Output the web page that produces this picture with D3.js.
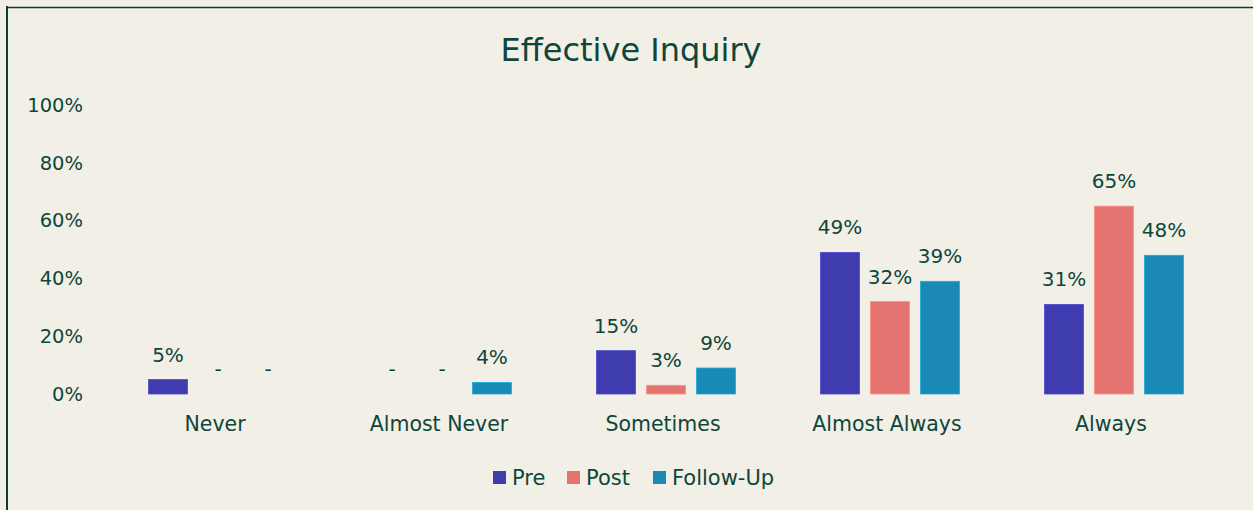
<!DOCTYPE html>
<html>
<head>
<meta charset="utf-8">
<script src="https://cdn.jsdelivr.net/npm/d3@7"></script>
<style>
  body { margin: 0; background: #f2efe7; }
  svg { display: block; font-family: "DejaVu Sans", sans-serif; }
</style>
</head>
<body>
<div id="chart"></div>
<script>
let categories = ['Never', 'Almost Never', 'Sometimes', 'Almost Always', 'Always']
let seriesNames = ['Pre', 'Post', 'Follow-Up']
let preValues = [5, 0, 15, 49, 31]
let postValues = [0, 0, 3, 32, 65]
let followUpValues = [0, 4, 9, 39, 48]
let yTicks = [0, 20, 40, 60, 80, 100]
let colors = ['#3f3caf', '#e5736f', '#1a8ab5']

let width = 1253
let height = 510
let margin = { top: 105, right: 27, bottom: 116, left: 106 }
let plotWidth = width - margin.left - margin.right
let plotHeight = height - margin.top - margin.bottom
let textColor = '#0e463a'
let fontFamily = '"DejaVu Sans", sans-serif'

let svg = d3.select('#chart')
  .append('svg')
    .attr('width', width)
    .attr('height', height)

svg.append('rect')
  .attr('width', width)
  .attr('height', height)
  .attr('fill', '#f2efe7')

// frame (only top and left edges are visible)
svg.append('line')
  .attr('x1', 7).attr('x2', 7).attr('y1', 6).attr('y2', height)
  .attr('stroke', '#0c3b31').attr('stroke-width', 2)
svg.append('line')
  .attr('x1', 6).attr('x2', width).attr('y1', 7.5).attr('y2', 7.5)
  .attr('stroke', '#0c3b31').attr('stroke-width', 1.5)

svg.append('text')
  .attr('x', 631)
  .attr('y', 50)
  .attr('text-anchor', 'middle')
  .attr('dominant-baseline', 'central')
  .attr('font-size', 32)
  .attr('fill', textColor)
  .text('Effective Inquiry')

let g = svg.append('g')
  .attr('transform', `translate(${margin.left}, ${margin.top})`)

let x0 = d3.scaleBand().domain(categories).range([0, plotWidth])
let x1 = d3.scaleBand().domain(seriesNames).range([-69.5, 69.5]).paddingInner(0.22)
let y = d3.scaleLinear().domain([0, 100]).range([plotHeight, 0])

// Y axis
let yAxis = g.append('g')
  .call(d3.axisLeft(y).tickValues(yTicks).tickFormat(d => d + '%').tickSize(0).tickPadding(23))
yAxis.select('.domain').remove()
yAxis.selectAll('text')
  .attr('font-size', 19.5)
  .attr('font-family', fontFamily)
  .attr('fill', textColor)

// X axis labels
let xAxis = g.append('g')
  .attr('transform', `translate(-3, ${plotHeight})`)
  .call(d3.axisBottom(x0).tickSize(0).tickPadding(0))
xAxis.select('.domain').remove()
xAxis.selectAll('text')
  .attr('y', 30)
  .attr('dy', null)
  .attr('dominant-baseline', 'central')
  .attr('font-size', 20.5)
  .attr('font-family', fontFamily)
  .attr('fill', textColor)

let seriesValues = [preValues, postValues, followUpValues]
let rows = []
categories.forEach((c, i) => {
  seriesNames.forEach((s, j) => {
    rows.push({ category: c, series: s, value: seriesValues[j][i], color: colors[j] })
  })
})

let cx = d => x0(d.category) + x0.bandwidth() / 2 + x1(d.series)

g.selectAll('.bar')
  .data(rows)
  .enter()
  .append('rect')
    .attr('class', 'bar')
    .attr('x', d => cx(d))
    .attr('y', d => y(d.value))
    .attr('width', x1.bandwidth())
    .attr('height', d => plotHeight - y(d.value))
    .attr('fill', d => d.color)
    .attr('stroke', d => d3.color(d.color).brighter(0.6))
    .attr('stroke-width', d => d.value > 0 ? 0.8 : 0)

g.selectAll('.label')
  .data(rows)
  .enter()
  .append('text')
    .attr('class', 'label')
    .attr('x', d => cx(d) + x1.bandwidth() / 2)
    .attr('y', d => y(d.value) - 25)
    .attr('text-anchor', 'middle')
    .attr('dominant-baseline', 'central')
    .attr('font-size', 20)
    .attr('fill', textColor)
    .text(d => d.value > 0 ? d.value + '%' : '-')

// Legend
let legendX = [493, 567, 653]
let legend = svg.append('g')
seriesNames.forEach((s, i) => {
  legend.append('rect')
    .attr('x', legendX[i]).attr('y', 471)
    .attr('width', 13).attr('height', 13)
    .attr('fill', colors[i])
  legend.append('text')
    .attr('x', legendX[i] + 19)
    .attr('y', 477.5)
    .attr('dominant-baseline', 'central')
    .attr('font-size', 21)
    .attr('fill', textColor)
    .text(s)
})
</script>
</body>
</html>
